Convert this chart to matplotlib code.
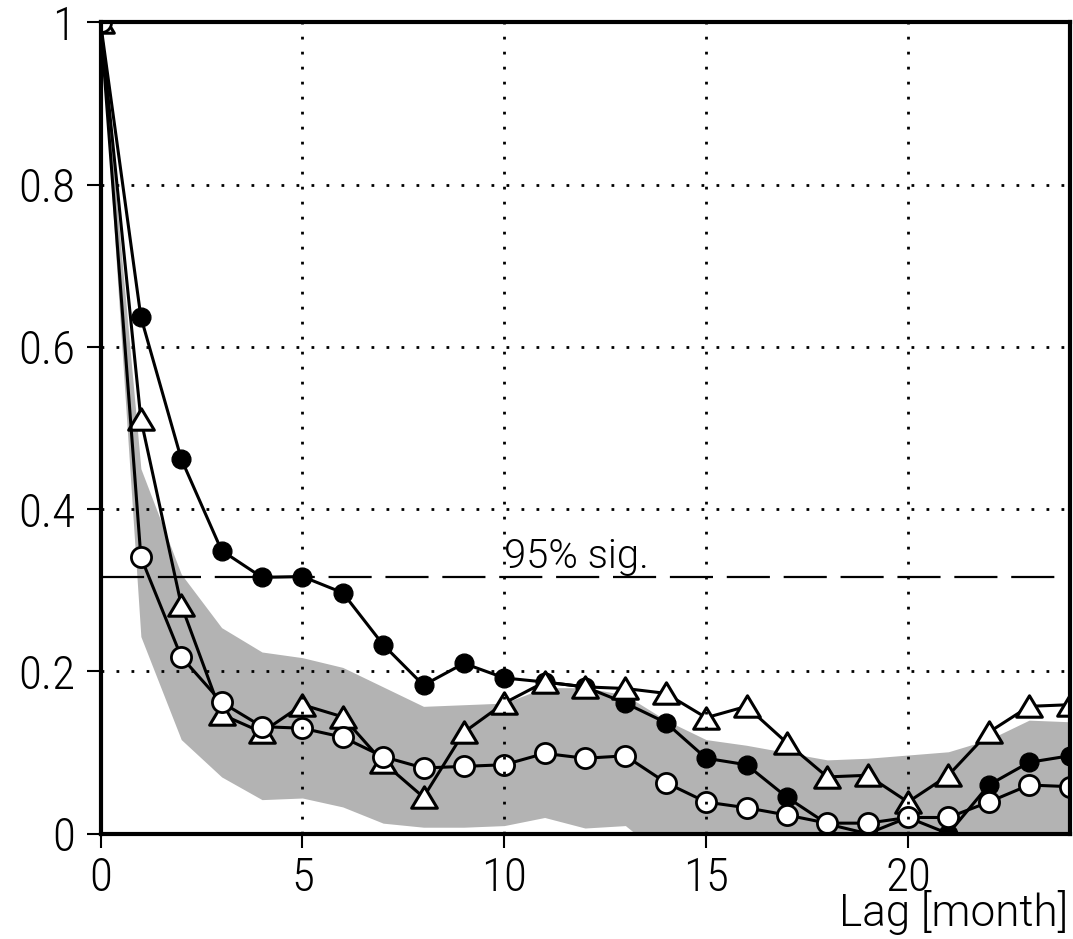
import os
import numpy as np
import matplotlib
matplotlib.use('Agg')
import matplotlib.pyplot as plt
import matplotlib.font_manager as fm
from matplotlib.font_manager import FontProperties
from matplotlib.textpath import TextPath
from matplotlib.path import Path

# ---------------- data ----------------
lags = list(range(25))
acf_filled = [1.0, 0.637, 0.462, 0.349, 0.316, 0.317, 0.297, 0.233, 0.183, 0.210,
              0.192, 0.187, 0.181, 0.161, 0.137, 0.093, 0.085, 0.045, 0.012, 0.0,
              0.020, 0.0, 0.060, 0.088, 0.096]
acf_triangle = [1.0, 0.511, 0.282, 0.147, 0.125, 0.159, 0.144, 0.088, 0.045, 0.125,
                0.161, 0.187, 0.181, 0.179, 0.173, 0.143, 0.157, 0.112, 0.070, 0.072,
                0.039, 0.072, 0.125, 0.157, 0.159]
acf_open = [1.0, 0.341, 0.218, 0.162, 0.132, 0.130, 0.119, 0.095, 0.081, 0.083,
            0.085, 0.099, 0.093, 0.096, 0.063, 0.039, 0.032, 0.023, 0.013, 0.013,
            0.020, 0.020, 0.039, 0.060, 0.058]
band_upper = [1.0, 0.45, 0.32, 0.254, 0.224, 0.217, 0.205, 0.181, 0.157, 0.159,
              0.161, 0.180, 0.180, 0.171, 0.140, 0.116, 0.109, 0.100, 0.091, 0.093,
              0.097, 0.101, 0.116, 0.140, 0.138]
band_lower = [1.0, 0.243, 0.116, 0.070, 0.042, 0.044, 0.033, 0.013, 0.008, 0.008,
              0.010, 0.020, 0.007, 0.010, -0.03, -0.03, -0.03, -0.03, -0.03, -0.03,
              -0.03, -0.03, -0.03, -0.03, -0.03]
sig_level = 0.316
sig_label = '95% sig.'
xticks = [0, 5, 10, 15, 20]
xtick_labels = ['0', '5', '10', '15', '20']
yticks = [0, 0.2, 0.4, 0.6, 0.8, 1.0]
ytick_labels = ['0', '0.2', '0.4', '0.6', '0.8', '1']
xlabel = 'Lag [month]'


# ---------------- fonts ----------------
def find_font(keys):
    files = [f.fname for f in fm.fontManager.ttflist]
    for k in keys:
        for fn in files:
            if k.lower() in os.path.basename(fn).lower():
                return fn
    return None


def props(keys, fallback='DejaVu Sans'):
    fn = find_font(keys)
    if fn:
        return FontProperties(fname=fn)
    return FontProperties(family=fallback)


def size_for(fp, s, target_h_px, target_w_px=None):
    ext = TextPath((0, 0), s if target_w_px is None else s[0], size=100, prop=fp).get_extents()
    size_h = 100.0 * (target_h_px * 0.72) / ext.height
    if target_w_px is None:
        return size_h
    w = TextPath((0, 0), s, size=100, prop=fp).get_extents().width
    size_w = 100.0 * (target_w_px * 0.72) / w
    return np.sqrt(size_h * size_w)


fp_tick = props(['RobotoCondensed-Light', 'Roboto_Condensed-Light', 'NotoSans-CondensedLight',
                 'LiberationSansNarrow-Regular', 'NotoSans-Condensed.', 'DejaVuSansCondensed.ttf',
                 'RobotoCondensed-Regular', 'Roboto-Light', 'DejaVuSans.ttf'])
fp_text = props(['Roboto-Light', 'Lato-Light', 'OpenSans-Light', 'NotoSans-Light', 'DejaVuSans.ttf'])

fp_tick.set_size(size_for(fp_tick, '0', 34.5))
fp_lab = fp_text.copy()
fp_lab.set_size(size_for(fp_lab, xlabel, 29, 239))
fp_sig = fp_text.copy()
fp_sig.set_size(size_for(fp_sig, sig_label, 25, 162))

# ---------------- figure ----------------
W, H = 1073, 939
fig = plt.figure(figsize=(W / 100, H / 100), dpi=100)
x0, x1, ytop, ybot = 100.5, 1069.5, 22.5, 833.7
ax = fig.add_axes([x0 / W, 1 - ybot / H, (x1 - x0) / W, (ybot - ytop) / H])

ax.fill_between(lags, band_lower, band_upper, color='#b3b3b3', lw=0, zorder=1)
ax.axhline(sig_level, color='k', lw=1.6, dashes=(19.4, 6.2), zorder=1.5)

ax.plot(lags, acf_filled, '-o', color='k', lw=2.2, ms=13.5, mfc='k', mec='k', mew=1, zorder=2)
tri = Path([(0, 1), (-1.2, -1), (1.2, -1), (0, 1)], closed=True)
ax.plot(lags, acf_triangle, '-', color='k', lw=2.2, marker=tri, ms=18.5, mfc='w',
        mec='k', mew=2.2, zorder=2.1)
ax.plot(lags, acf_open, '-o', color='k', lw=2.2, ms=14.5, mfc='w', mec='k', mew=2, zorder=2.2)

ax.annotate(sig_label, xy=(10, sig_level), xytext=(0, 6.5), textcoords='offset points',
            ha='left', va='baseline', fontproperties=fp_sig)

ax.set_xlim(0, 24)
ax.set_ylim(0, 1)
ax.set_xticks(xticks, labels=xtick_labels)
ax.set_yticks(yticks, labels=ytick_labels)
for lbl in ax.get_xticklabels() + ax.get_yticklabels():
    lbl.set_fontproperties(fp_tick)
ax.tick_params(axis='both', direction='out', length=10, width=1.5, colors='k')
ax.tick_params(axis='y', pad=8)
ax.tick_params(axis='x', pad=6)

ax.set_axisbelow(False)
ax.grid(True, color='k', lw=2, linestyle=(0, (1, 4.4)))
for s in ax.spines.values():
    s.set_linewidth(3)
    s.set_zorder(3)

fig.text(1068 / W, 1 - 926 / H, xlabel, ha='right', va='baseline', fontproperties=fp_lab)

fig.savefig('out.png', dpi=100, facecolor='white')
